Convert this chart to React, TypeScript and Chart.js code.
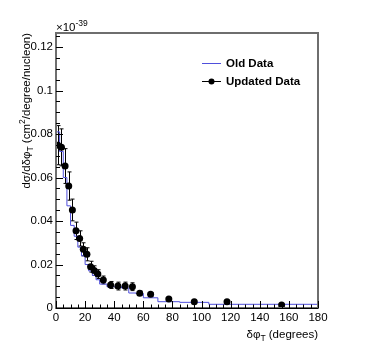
import React, { useEffect, useRef } from "react";
import { Chart, registerables } from "chart.js";

Chart.register(...registerables);

// ---- data (values shown in units of 1e-39) ----
const binEdges = [0, 2.5, 5, 7.5, 10, 12.5, 15, 17.5, 20, 22.5, 25, 27.5, 30, 35, 40, 45, 50, 55, 60, 70, 85, 105, 130, 180];
const updatedValues = [0.0749, 0.0739, 0.0653, 0.0561, 0.0451, 0.0355, 0.032, 0.027, 0.0247, 0.019, 0.0172, 0.0156, 0.0129, 0.0106, 0.0101, 0.0101, 0.0098, 0.0068, 0.0063, 0.0041, 0.0029, 0.0029, 0.0014];
const updatedErrors = [0.009, 0.0085, 0.008, 0.0065, 0.005, 0.004, 0.0035, 0.003, 0.003, 0.0025, 0.0022, 0.002, 0.0018, 0.0016, 0.0018, 0.0018, 0.0018, 0.001, 0.0008, 0.0006, 0.0005, 0.0005, 0.0004];
const oldValues = [0.1005, 0.081, 0.072, 0.06, 0.047, 0.038, 0.033, 0.028, 0.024, 0.02, 0.017, 0.015, 0.013, 0.011, 0.0098, 0.0098, 0.0092, 0.0069, 0.0066, 0.0047, 0.0029, 0.0026, 0.0017];

const xTicks = [0, 20, 40, 60, 80, 100, 120, 140, 160, 180];
const xTickLabels = ["0", "20", "40", "60", "80", "100", "120", "140", "160", "180"];
const yTicks = [0, 0.02, 0.04, 0.06, 0.08, 0.1, 0.12];
const yTickLabels = ["0", "0.02", "0.04", "0.06", "0.08", "0.1", "0.12"];
const xMinorStep = 5;
const yMinorStep = 0.005;
const xMax = 180;
const yMax = 0.1265;

const seriesNames = ["Old Data", "Updated Data"];

const FONT = '"Liberation Sans", Arial, Helvetica, sans-serif';
const BLUE = "#4f4fdc";

type Part = { t: string; s: "n" | "sub" | "sup" };

function measureParts(ctx: CanvasRenderingContext2D, parts: Part[], size: number, small: number) {
  let w = 0;
  for (const p of parts) {
    ctx.font = `${p.s === "n" ? size : small}px ${FONT}`;
    w += ctx.measureText(p.t).width;
  }
  return w;
}

function drawParts(ctx: CanvasRenderingContext2D, parts: Part[], size: number, small: number) {
  let x = 0;
  ctx.textBaseline = "alphabetic";
  ctx.textAlign = "left";
  for (const p of parts) {
    ctx.font = `${p.s === "n" ? size : small}px ${FONT}`;
    const dy = p.s === "sub" ? 3 : p.s === "sup" ? -4.5 : 0;
    ctx.fillText(p.t, x, dy);
    x += ctx.measureText(p.t).width;
  }
}

const rootPlugin = {
  id: "rootStyle",
  beforeDatasetsDraw(chart: any) {
    const { ctx, scales } = chart;
    const x = scales.x;
    const y = scales.y;
    ctx.save();
    ctx.strokeStyle = "#000";
    ctx.lineWidth = 1;
    updatedValues.forEach((v, i) => {
      const cx = Math.round(x.getPixelForValue((binEdges[i] + binEdges[i + 1]) / 2)) + 0.5;
      const yT = y.getPixelForValue(v + updatedErrors[i]);
      const yB = y.getPixelForValue(v - updatedErrors[i]);
      ctx.beginPath();
      ctx.moveTo(cx, yT);
      ctx.lineTo(cx, yB);
      ctx.moveTo(cx - 2, yT);
      ctx.lineTo(cx + 2, yT);
      ctx.moveTo(cx - 2, yB);
      ctx.lineTo(cx + 2, yB);
      ctx.stroke();
    });
    ctx.restore();
  },
  afterDraw(chart: any) {
    const { ctx, chartArea: a, scales } = chart;
    const x = scales.x;
    const y = scales.y;
    ctx.save();
    // frame
    ctx.strokeStyle = "#6e6e6e";
    ctx.lineWidth = 2;
    ctx.strokeRect(a.left, a.top, a.right - a.left, a.bottom - a.top);
    // bottom axis
    ctx.strokeStyle = "#000";
    ctx.lineWidth = 1;
    ctx.beginPath();
    ctx.moveTo(a.left, a.bottom + 0.5);
    ctx.lineTo(a.right, a.bottom + 0.5);
    // y ticks
    for (let v = 0; v <= yMax + 1e-9; v += yMinorStep) {
      const py = Math.round(y.getPixelForValue(v)) + 0.5;
      const major = yTicks.some((t) => Math.abs(t - v) < 1e-9);
      ctx.moveTo(a.left, py);
      ctx.lineTo(a.left + (major ? 7 : 4), py);
    }
    // x ticks
    for (let v = 0; v <= xMax + 1e-9; v += xMinorStep) {
      const px = Math.round(x.getPixelForValue(v)) + 0.5;
      const major = xTicks.some((t) => Math.abs(t - v) < 1e-9);
      ctx.moveTo(px, a.bottom);
      ctx.lineTo(px, a.bottom - (major ? 7 : 3.5));
    }
    ctx.stroke();

    ctx.fillStyle = "#000";
    // exponent label
    ctx.save();
    ctx.translate(a.left, 30.5);
    drawParts(ctx, [{ t: "\u00d710", s: "n" }, { t: "-39", s: "sup" }], 11.5, 8.5);
    ctx.restore();

    // y title (aligned to top end)
    const yParts: Part[] = [
      { t: "d\u03c3/d\u03b4\u03c6", s: "n" },
      { t: "T", s: "sub" },
      { t: " (cm", s: "n" },
      { t: "2", s: "sup" },
      { t: "/degree/nucleon)", s: "n" },
    ];
    const yw = measureParts(ctx, yParts, 11.5, 8.5);
    ctx.save();
    ctx.translate(29.5, a.top + yw);
    ctx.rotate(-Math.PI / 2);
    drawParts(ctx, yParts, 11.5, 8.5);
    ctx.restore();

    // x title (aligned to right end)
    const xParts: Part[] = [
      { t: "\u03b4\u03c6", s: "n" },
      { t: "T", s: "sub" },
      { t: " (degrees)", s: "n" },
    ];
    const xw = measureParts(ctx, xParts, 11.5, 8.5);
    ctx.save();
    ctx.translate(a.right - xw, 337.5);
    drawParts(ctx, xParts, 11.5, 8.5);
    ctx.restore();

    // legend
    ctx.lineWidth = 1;
    ctx.strokeStyle = BLUE;
    ctx.beginPath();
    ctx.moveTo(202, 63.5);
    ctx.lineTo(221, 63.5);
    ctx.stroke();
    ctx.strokeStyle = "#000";
    ctx.beginPath();
    ctx.moveTo(202, 81.5);
    ctx.lineTo(221, 81.5);
    ctx.stroke();
    ctx.beginPath();
    ctx.arc(211.5, 81.5, 3, 0, Math.PI * 2);
    ctx.fill();
    ctx.font = `bold 11.5px ${FONT}`;
    ctx.textAlign = "left";
    ctx.textBaseline = "middle";
    ctx.fillText(seriesNames[0], 226, 63.5);
    ctx.fillText(seriesNames[1], 226, 81.5);
    ctx.restore();
  },
};

export default function App() {
  const ref = useRef<HTMLCanvasElement | null>(null);
  useEffect(() => {
    if (!ref.current) return;
    const n = oldValues.length;
    const chart = new Chart(ref.current, {
      type: "scatter",
      data: {
        datasets: [
          {
            type: "scatter",
            label: seriesNames[1],
            data: updatedValues.map((v, i) => ({ x: (binEdges[i] + binEdges[i + 1]) / 2, y: v })),
            pointRadius: 3.5,
            pointBackgroundColor: "#000",
            pointBorderWidth: 0,
            showLine: false,
          } as any,
          {
            type: "line",
            label: seriesNames[0],
            data: binEdges.map((e, i) => ({ x: e, y: oldValues[Math.min(i, n - 1)] })),
            stepped: "after",
            borderColor: BLUE,
            borderWidth: 1,
            pointRadius: 0,
            fill: false,
          } as any,
        ],
      },
      options: {
        animation: false,
        responsive: false,
        maintainAspectRatio: false,
        layout: { padding: { left: 0, right: 56, top: 33, bottom: 0 } },
        plugins: { legend: { display: false }, tooltip: { enabled: false } },
        scales: {
          x: {
            type: "linear",
            min: 0,
            max: xMax,
            afterBuildTicks: (s: any) => {
              s.ticks = xTicks.map((v) => ({ value: v }));
            },
            afterFit: (s: any) => {
              s.height = 55;
            },
            ticks: {
              callback: (_v: any, i: number) => xTickLabels[i],
              font: { family: FONT, size: 11.5 },
              color: "#000",
              padding: 3,
              maxRotation: 0,
              autoSkip: false,
            },
            grid: { display: false, drawTicks: false },
            border: { display: false },
          },
          y: {
            type: "linear",
            min: 0,
            max: yMax,
            afterBuildTicks: (s: any) => {
              s.ticks = yTicks.map((v) => ({ value: v }));
            },
            afterFit: (s: any) => {
              s.width = 56;
            },
            ticks: {
              callback: (_v: any, i: number) => yTickLabels[i],
              font: { family: FONT, size: 11.5 },
              color: "#000",
              padding: 3,
              autoSkip: false,
            },
            grid: { display: false, drawTicks: false },
            border: { display: false },
          },
        },
      },
      plugins: [rootPlugin],
    } as any);
    return () => chart.destroy();
  }, []);
  return (
    <div style={{ position: "absolute", left: 0, top: 0, width: 374, height: 363, background: "#fff" }}>
      <canvas ref={ref} width={374} height={363} style={{ display: "block" }} />
    </div>
  );
}
